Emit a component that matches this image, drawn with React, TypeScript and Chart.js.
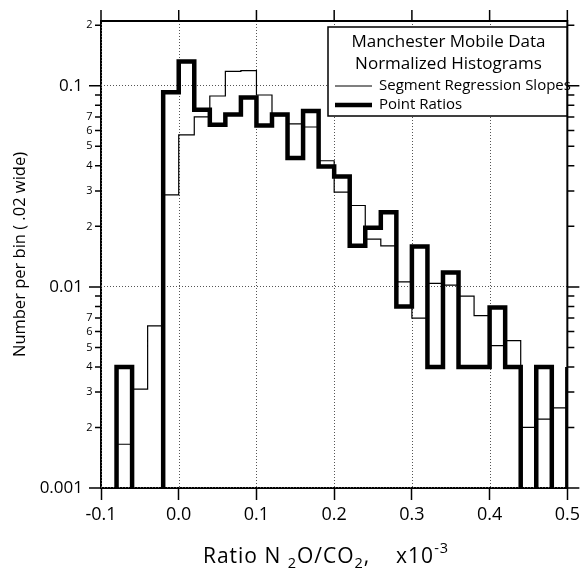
import { useEffect, useRef } from 'react';
import { Chart, registerables } from 'chart.js';

Chart.register(...registerables);

// ---- data (bins are 0.02 wide; left edges) ----
const binLeftEdges = [
  -0.1, -0.08, -0.06, -0.04, -0.02, 0.0, 0.02, 0.04, 0.06, 0.08,
  0.1, 0.12, 0.14, 0.16, 0.18, 0.2, 0.22, 0.24, 0.26, 0.28,
  0.3, 0.32, 0.34, 0.36, 0.38, 0.4, 0.42, 0.44, 0.46, 0.48, 0.5,
];
const BIN_WIDTH = 0.02;

const segmentRegressionSlopes = [
  0, 0.00165, 0.0031, 0.0064, 0.0287, 0.057, 0.070, 0.089, 0.118, 0.119,
  0.090, 0.071, 0.0647, 0.0624, 0.0424, 0.0296, 0.0254, 0.0173, 0.016, 0.0106,
  0.0070, 0.0104, 0.0102, 0.0090, 0.0072, 0.0051, 0.0054, 0.0020, 0.0022, 0.0025, 0,
];

const pointRatios = [
  0, 0.0040, 0, 0, 0.093, 0.132, 0.076, 0.064, 0.072, 0.0875,
  0.0635, 0.072, 0.0437, 0.075, 0.0397, 0.0354, 0.016, 0.0197, 0.0235, 0.0080,
  0.0159, 0.0040, 0.0118, 0.0040, 0.0040, 0.0079, 0.0040, 0, 0.0040, 0, 0.0040,
];

const seriesLabels = ['Segment Regression Slopes', 'Point Ratios'];
const legendTitleLines = ['Manchester Mobile Data', 'Normalized Histograms'];

const yTickValues = [
  0.001, 0.002, 0.003, 0.004, 0.005, 0.006, 0.007, 0.008, 0.009,
  0.01, 0.02, 0.03, 0.04, 0.05, 0.06, 0.07, 0.08, 0.09,
  0.1, 0.2,
];
const yTickLabels = [
  '0.001', '2', '3', '4', '5', '6', '7', '', '',
  '0.01', '2', '3', '4', '5', '6', '7', '', '',
  '0.1', '2',
];
const yMajorTicks = [0.001, 0.01, 0.1];

const yAxisTitle = 'Number per bin ( .02 wide)';
const xAxisTitleRuns = [
  { text: 'Ratio N ', kind: 'normal' },
  { text: '2', kind: 'sub' },
  { text: 'O/CO', kind: 'normal' },
  { text: '2', kind: 'sub' },
  { text: ',    x10', kind: 'normal' },
  { text: '-3', kind: 'sup' },
];

const FONT = '"Open Sans", "DejaVu Sans", sans-serif';
const FLOOR = 1e-5; // zero counts fall below the axis

function toSteps(values: number[]) {
  // point i = (left edge i, value i); 'before' stepping draws value i across [edge i, edge i+1]
  const pts = binLeftEdges.map((x, i) => ({ x, y: values[i] === 0 ? FLOOR : values[i] }));
  const last = pts[pts.length - 1];
  pts.push({ x: last.x + BIN_WIDTH, y: last.y });
  return pts;
}

const isMajor = (v: number) => yMajorTicks.some((m) => Math.abs(m - v) < m * 1e-6);

const decorations = {
  id: 'decorations',
  beforeDatasetsDraw(chart: any) {
    const { ctx, chartArea, scales } = chart;
    const { left, right, top, bottom } = chartArea;
    const x = scales.x;
    const y = scales.y;
    ctx.save();
    ctx.strokeStyle = '#555';
    ctx.lineWidth = 1;
    ctx.setLineDash([1, 2]);
    x.ticks.forEach((t: any) => {
      const px = Math.round(x.getPixelForValue(t.value)) + 0.5;
      ctx.beginPath();
      ctx.moveTo(px, top);
      ctx.lineTo(px, bottom);
      ctx.stroke();
    });
    y.ticks.forEach((t: any) => {
      if (!isMajor(t.value)) return;
      const py = Math.round(y.getPixelForValue(t.value)) - 0.5;
      ctx.beginPath();
      ctx.moveTo(left, py);
      ctx.lineTo(right, py);
      ctx.stroke();
    });
    ctx.restore();
  },
  afterDatasetsDraw(chart: any) {
    const { ctx, chartArea, scales } = chart;
    const { left, right, top, bottom } = chartArea;
    const x = scales.x;
    const y = scales.y;
    ctx.save();
    ctx.setLineDash([]);
    ctx.strokeStyle = '#000';
    ctx.fillStyle = '#000';

    // top & right frame
    ctx.lineWidth = 2;
    ctx.beginPath();
    ctx.moveTo(left - 1, top);
    ctx.lineTo(right, top);
    ctx.lineTo(right, bottom + 1);
    ctx.stroke();

    // top mirrored x ticks
    ctx.lineWidth = 1.5;
    x.ticks.forEach((t: any) => {
      const px = x.getPixelForValue(t.value);
      ctx.beginPath();
      ctx.moveTo(px, top);
      ctx.lineTo(px, top - 11);
      ctx.stroke();
    });

    // y ticks (left & right) and labels
    ctx.textAlign = 'right';
    ctx.textBaseline = 'middle';
    y.ticks.forEach((t: any, i: number) => {
      const py = y.getPixelForValue(t.value);
      const major = isMajor(t.value);
      const lenL = major ? 12 : 6;
      const lenR = major ? 12 : 7;
      ctx.beginPath();
      ctx.moveTo(left, py);
      ctx.lineTo(left - lenL, py);
      ctx.moveTo(right, py);
      ctx.lineTo(right + lenR, py);
      ctx.stroke();
      const label = yTickLabels[i] || '';
      if (label) {
        ctx.font = major ? `17px ${FONT}` : `11px ${FONT}`;
        ctx.fillText(label, left - (major ? 18 : 8.5), py);
      }
    });

    // legend
    const bx = 328;
    const by = 27;
    const bw = 239;
    const bh = 89;
    ctx.fillStyle = '#fff';
    ctx.fillRect(bx, by, bw, bh);
    ctx.lineWidth = 1.5;
    ctx.strokeRect(bx, by, bw, bh);
    ctx.fillStyle = '#000';
    ctx.textAlign = 'center';
    ctx.textBaseline = 'alphabetic';
    ctx.font = `17px ${FONT}`;
    legendTitleLines.forEach((line, i) => {
      ctx.fillText(line, bx + bw / 2 + 1, by + 20 + i * 21.5);
    });
    ctx.textAlign = 'left';
    ctx.textBaseline = 'middle';
    ctx.font = `15px ${FONT}`;
    chart.data.datasets.forEach((ds: any, i: number) => {
      const ly = by + 59 + i * 19;
      ctx.lineWidth = ds.borderWidth;
      ctx.beginPath();
      ctx.moveTo(bx + 7, ly);
      ctx.lineTo(bx + 44, ly);
      ctx.stroke();
      ctx.fillText(ds.label, bx + 51, ly);
    });

    // x axis title with sub/superscripts
    const big = `21px ${FONT}`;
    const small = `14.5px ${FONT}`;
    (ctx as any).letterSpacing = '1px';
    let total = 0;
    xAxisTitleRuns.forEach((r) => {
      ctx.font = r.kind === 'normal' ? big : small;
      total += ctx.measureText(r.text).width;
    });
    let cx = 326 - total / 2;
    const baseY = 563;
    ctx.textBaseline = 'alphabetic';
    xAxisTitleRuns.forEach((r) => {
      ctx.font = r.kind === 'normal' ? big : small;
      const dy = r.kind === 'sub' ? 5 : r.kind === 'sup' ? -10.5 : 0;
      ctx.fillText(r.text, cx, baseY + dy);
      cx += ctx.measureText(r.text).width;
    });
    (ctx as any).letterSpacing = '0px';
    ctx.restore();
  },
};

export default function App() {
  const canvasRef = useRef<HTMLCanvasElement | null>(null);

  useEffect(() => {
    const canvas = canvasRef.current;
    if (!canvas) return;
    const chart = new Chart(canvas, {
      type: 'line',
      data: {
        datasets: [
          {
            label: seriesLabels[0],
            data: toSteps(segmentRegressionSlopes),
            stepped: 'before',
            borderColor: '#000',
            borderWidth: 1.2,
            pointRadius: 0,
            fill: false,
            clip: 0,
          },
          {
            label: seriesLabels[1],
            data: toSteps(pointRatios),
            stepped: 'before',
            borderColor: '#000',
            borderWidth: 4.5,
            borderJoinStyle: 'miter',
            pointRadius: 0,
            fill: false,
            clip: 0,
          },
        ],
      } as any,
      options: {
        responsive: false,
        maintainAspectRatio: false,
        animation: false,
        devicePixelRatio: 1,
        layout: { padding: { left: 0, right: 15, top: 21, bottom: 0 } },
        plugins: {
          legend: { display: false },
          tooltip: { enabled: false },
        },
        scales: {
          x: {
            type: 'linear',
            min: -0.1,
            max: 0.5,
            ticks: {
              stepSize: 0.1,
              color: '#000',
              font: { family: FONT, size: 18 },
              padding: 4,
              maxRotation: 0,
              callback: (v: any) => {
                const n = Number(v);
                return (Math.abs(n) < 1e-9 ? 0 : n).toFixed(1);
              },
            },
            grid: {
              drawOnChartArea: false,
              drawTicks: true,
              tickLength: 12,
              tickColor: '#000',
              tickWidth: 1.5,
            },
            border: { display: true, color: '#000', width: 2 },
            afterFit: (scale: any) => {
              scale.height = 80;
            },
          },
          y: {
            type: 'logarithmic',
            min: 0.001,
            max: 0.21,
            afterBuildTicks: (scale: any) => {
              scale.ticks = yTickValues.map((v) => ({ value: v, major: isMajor(v) }));
            },
            ticks: { display: false },
            grid: { drawOnChartArea: false, drawTicks: false },
            border: { display: true, color: '#000', width: 2 },
            title: {
              display: true,
              text: yAxisTitle,
              color: '#000',
              font: { family: FONT, size: 16.5 },
              padding: { top: 10, bottom: 0 },
            },
            afterFit: (scale: any) => {
              scale.width = 101;
            },
          },
        },
      } as any,
      plugins: [decorations],
    });
    return () => chart.destroy();
  }, []);

  return (
    <div style={{ position: 'absolute', left: 0, top: 0, width: 584, height: 568, background: '#fff' }}>
      <canvas ref={canvasRef} width={584} height={568} style={{ display: 'block' }} />
    </div>
  );
}
